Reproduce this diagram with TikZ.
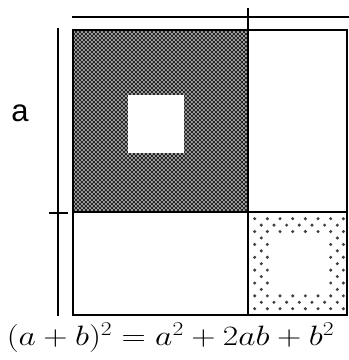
\RequirePackage{fix-cm}
\documentclass[tikz,border=0pt]{standalone}
\usepackage{fontspec}
\newfontfamily\labelfont{Liberation Sans}
\usepackage{graphicx}
\usetikzlibrary{patterns}
\pgfdeclarepatternformonly{checker}{\pgfpointorigin}{\pgfpoint{4pt}{4pt}}{\pgfpoint{4pt}{4pt}}{%
  \pgfpathrectangle{\pgfpointorigin}{\pgfpoint{2pt}{2pt}}%
  \pgfpathrectangle{\pgfpoint{2pt}{2pt}}{\pgfpoint{2pt}{2pt}}%
  \pgfusepath{fill}}
\colorlet{dotgray}{black!75}

\begin{document}
\begin{tikzpicture}[x=1pt, y=-1pt, edge/.style={line width=2pt}, guide/.style={line width=1.6pt},
  dotb/.style={fill=dotgray}]
  \useasboundingbox (0,0) rectangle (349,360);
  % a^2 block, shaded with a hole
  \fill[black!38] (73,30) rectangle (248,212);
  \fill[pattern=checker, pattern color=black!85] (73,30) rectangle (248,212);
  \fill[white] (128,95) rectangle (184,153);
  % b^2 block, ring of dots
  \foreach \r in {0,2,12,14} \foreach \k in {0,...,7} \fill[dotb] (254.7+12.67*\k, 218.7+6.43*\r) circle (1.7);
  \foreach \r in {1,13} \foreach \k in {0,...,6} \fill[dotb] (261.3+12.67*\k, 218.7+6.43*\r) circle (1.7);
  \foreach \r in {4,6,8,10} \foreach \k in {0,1,6,7} \fill[dotb] (254.7+12.67*\k, 218.7+6.43*\r) circle (1.7);
  \foreach \r in {3,5,...,11} \foreach \k in {0,6} \fill[dotb] (261.3+12.67*\k, 218.7+6.43*\r) circle (1.7);
  % outlines
  \draw[edge] (73,30) rectangle (347,315);
  \draw[edge] (248,30) -- (248,315);
  \draw[edge] (73,212) -- (347,212);
  % side guides with ticks
  \draw[guide] (72,17) -- (349,17);
  \draw[guide] (248,8) -- (248,30);
  \draw[guide] (58,28) -- (58,316);
  \draw[guide] (49,213) -- (68,213);
  \node[font=\labelfont\fontsize{31}{36}\selectfont, inner sep=0pt] (alab) at (20,113.5) {a};
  \node[anchor=base, inner sep=0pt, font=\fontsize{28}{33}\selectfont] (formula) at (170.5,345.5)
    {\scalebox{1.2}[1]{$(a+b)^2=a^2+2ab+b^2$}};
\end{tikzpicture}
\end{document}
